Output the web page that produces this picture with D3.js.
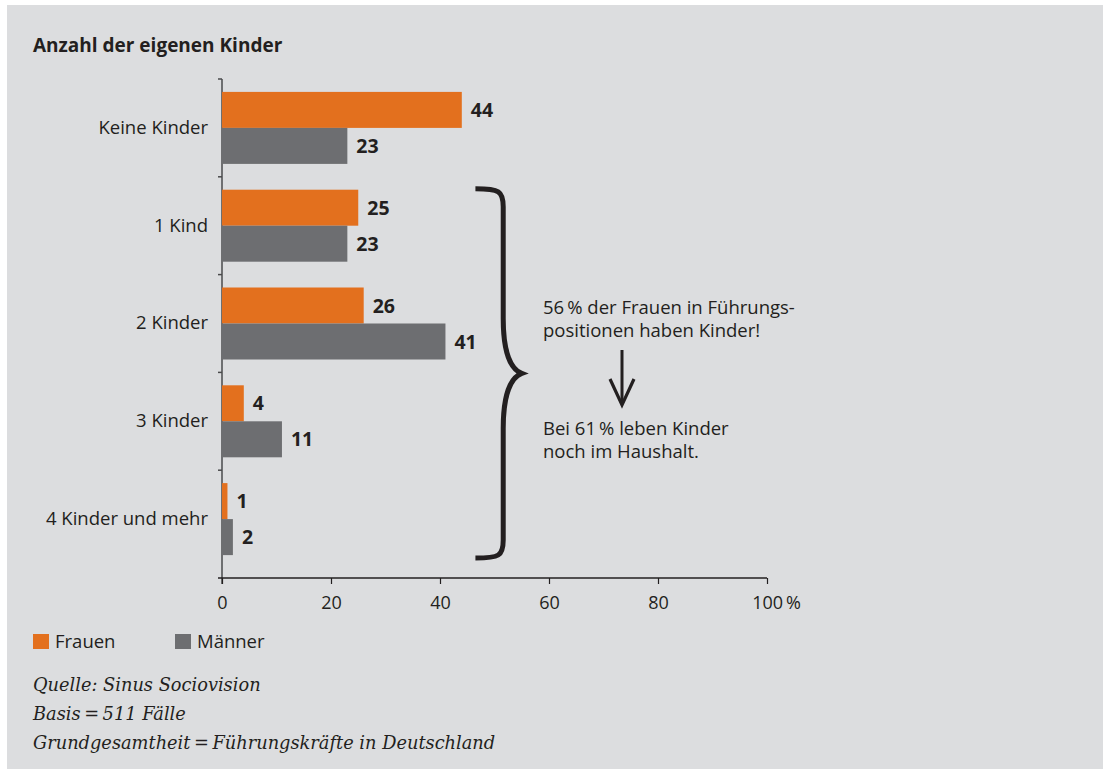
<!DOCTYPE html>
<html>
<head>
<meta charset="utf-8">
<script src="https://cdn.jsdelivr.net/npm/d3@7"></script>
<style>
  body { margin: 0; background: #fff; }
  svg { display: block; }
  text { fill: #231f20; }
</style>
</head>
<body>
<div id="chart"></div>
<script>

  // data
  const categories = ["Keine Kinder", "1 Kind", "2 Kinder", "3 Kinder", "4 Kinder und mehr"];
  const frauen = [44, 25, 26, 4, 1];
  const maenner = [23, 23, 41, 11, 2];
  const xTicks = [0, 20, 40, 60, 80, 100];
  const seriesNames = ["Frauen", "Männer"];
  const noteLines = ["56\u2009% der Frauen in Führungs-", "positionen haben Kinder!"];
  const noteLines2 = ["Bei 61\u2009% leben Kinder", "noch im Haushalt."];
  const footer = ["Quelle: Sinus Sociovision", "Basis\u2009=\u2009511 Fälle", "Grundgesamtheit\u2009=\u2009Führungskräfte in Deutschland"];

  let width = 1103;
  let height = 778;

  let orange = "#e3701e";
  let grey = "#6d6e71";
  let ink = "#231f20";
  let sans = "'Open Sans', sans-serif";
  let serif = "'DejaVu Serif', serif";

  let svg = d3.select("#chart")
              .append("svg")
              .attr("width", width)
              .attr("height", height);

  // panel
  svg.append("rect")
     .attr("x", 7)
     .attr("y", 5)
     .attr("width", width - 7)
     .attr("height", 764)
     .attr("fill", "#dcdddf");

  svg.append("text")
     .attr("x", 33)
     .attr("y", 52)
     .style("font-family", sans)
     .style("font-weight", 700)
     .style("font-size", "19px")
     .text("Anzahl der eigenen Kinder");

  let x = d3.scaleLinear().domain([0, 100]).range([222, 767]);
  let y = d3.scaleBand().domain(categories).range([79, 568]);
  let barH = 36;

  let plot = svg.append("g");

  // vertical axis line + group ticks
  plot.append("line")
      .attr("x1", x(0)).attr("x2", x(0))
      .attr("y1", y.range()[0]).attr("y2", 584)
      .attr("stroke", "#4a4a4c")
      .attr("stroke-width", 1.5);

  plot.selectAll(".group-tick")
      .data(categories)
      .enter()
      .append("line")
      .attr("class", "group-tick")
      .attr("x1", x(0) - 4).attr("x2", x(0))
      .attr("y1", d => y(d)).attr("y2", d => y(d))
      .attr("stroke", "#4a4a4c")
      .attr("stroke-width", 1.5);

  // x axis
  let xAxis = d3.axisBottom(x)
                .tickValues(xTicks)
                .tickSize(6)
                .tickSizeOuter(0)
                .tickFormat(d => d == 100 ? "100\u2009%" : d);

  let gx = plot.append("g")
               .attr("transform", "translate(0,578)")
               .call(xAxis);
  gx.select(".domain")
    .attr("d", "M" + (x(0) - 4) + ",0H" + x(100))
    .attr("stroke", ink)
    .attr("stroke-width", 1.5);
  gx.selectAll(".tick line").attr("stroke", ink).attr("stroke-width", 1.2);
  gx.selectAll(".tick text")
    .attr("y", 18)
    .style("font-family", sans)
    .style("font-size", "18px")
    .style("fill", ink)
    .attr("dx", d => d == 100 ? "9" : "0");

  // y axis labels
  let yAxis = d3.axisLeft(y).tickSize(0).tickPadding(14);
  let gy = plot.append("g")
               .attr("transform", "translate(" + x(0) + ",0)")
               .call(yAxis);
  gy.select(".domain").remove();
  gy.selectAll(".tick text")
    .style("font-family", sans)
    .style("font-size", "18.5px")
    .style("fill", ink);

  // bars
  let series = [frauen, maenner];
  let colors = [orange, grey];

  series.forEach(function(values, s) {
    let g = plot.append("g").attr("class", "series-" + s);
    let rows = values.map((v, i) => ({ cat: categories[i], v: v }));

    g.selectAll("rect")
     .data(rows)
     .enter()
     .append("rect")
     .attr("x", x(0))
     .attr("y", d => y(d.cat) + y.bandwidth() / 2 - barH + s * barH)
     .attr("width", d => x(d.v) - x(0))
     .attr("height", barH)
     .attr("fill", colors[s]);

    g.selectAll("text")
     .data(rows)
     .enter()
     .append("text")
     .attr("x", d => x(d.v) + 9)
     .attr("y", d => y(d.cat) + y.bandwidth() / 2 - barH / 2 + s * barH)
     .attr("dy", "0.36em")
     .style("font-family", sans)
     .style("font-weight", 700)
     .style("font-size", "19.5px")
     .text(d => d.v);
  });

  // brace over the groups with children
  let braceTop = y(categories[1]) + 12;
  let braceBot = y(categories[4]) + y.bandwidth() - 10;
  let mid = (braceTop + braceBot) / 2;
  let bx0 = x(46.5), bx1 = x(51.6), bx2 = x(55);
  let brace = d3.path();
  brace.moveTo(bx0, braceTop);
  brace.bezierCurveTo(bx1 - 4, braceTop, bx1, braceTop + 2, bx1, braceTop + 18);
  brace.lineTo(bx1, mid - 55);
  brace.bezierCurveTo(bx1, mid - 20, bx1 + 8, mid - 4, bx2, mid);
  brace.bezierCurveTo(bx1 + 8, mid + 4, bx1, mid + 20, bx1, mid + 55);
  brace.lineTo(bx1, braceBot - 18);
  brace.bezierCurveTo(bx1, braceBot - 2, bx1 - 4, braceBot, bx0, braceBot);
  plot.append("path")
      .attr("d", brace.toString())
      .attr("fill", "none")
      .attr("stroke", ink)
      .attr("stroke-width", 5);

  // note
  let note = svg.append("g")
                .style("font-family", sans)
                .style("font-size", "18.5px");
  note.selectAll(".n1")
      .data(noteLines)
      .enter()
      .append("text")
      .attr("x", 543)
      .attr("y", (d, i) => 314 + i * 23)
      .text(d => d);
  note.selectAll(".n2")
      .data(noteLines2)
      .enter()
      .append("text")
      .attr("x", 543)
      .attr("y", (d, i) => 435 + i * 23)
      .text(d => d);

  // arrow
  let ax = 622;
  note.append("line")
      .attr("x1", ax).attr("x2", ax)
      .attr("y1", 350).attr("y2", 404)
      .attr("stroke", ink)
      .attr("stroke-width", 3);
  note.append("path")
      .attr("d", "M" + (ax - 12) + ",379L" + ax + ",405L" + (ax + 12) + ",379")
      .attr("fill", "none")
      .attr("stroke", ink)
      .attr("stroke-width", 3.2);

  // legend
  let legend = svg.append("g")
                  .attr("transform", "translate(33,634)");
  let legendX = [0, 142];
  seriesNames.forEach(function(name, i) {
    legend.append("rect")
          .attr("x", legendX[i])
          .attr("y", 0)
          .attr("width", 16)
          .attr("height", 15)
          .attr("fill", colors[i]);
    legend.append("text")
          .attr("x", legendX[i] + 22)
          .attr("y", 14)
          .style("font-family", sans)
          .style("font-size", "18.5px")
          .text(name);
  });

  // footer
  svg.append("g")
     .selectAll("text")
     .data(footer)
     .enter()
     .append("text")
     .attr("x", 33)
     .attr("y", (d, i) => 691 + i * 29)
     .style("font-family", serif)
     .style("font-style", "italic")
     .style("font-size", "17.8px")
     .text(d => d);

</script>
</body>
</html>
